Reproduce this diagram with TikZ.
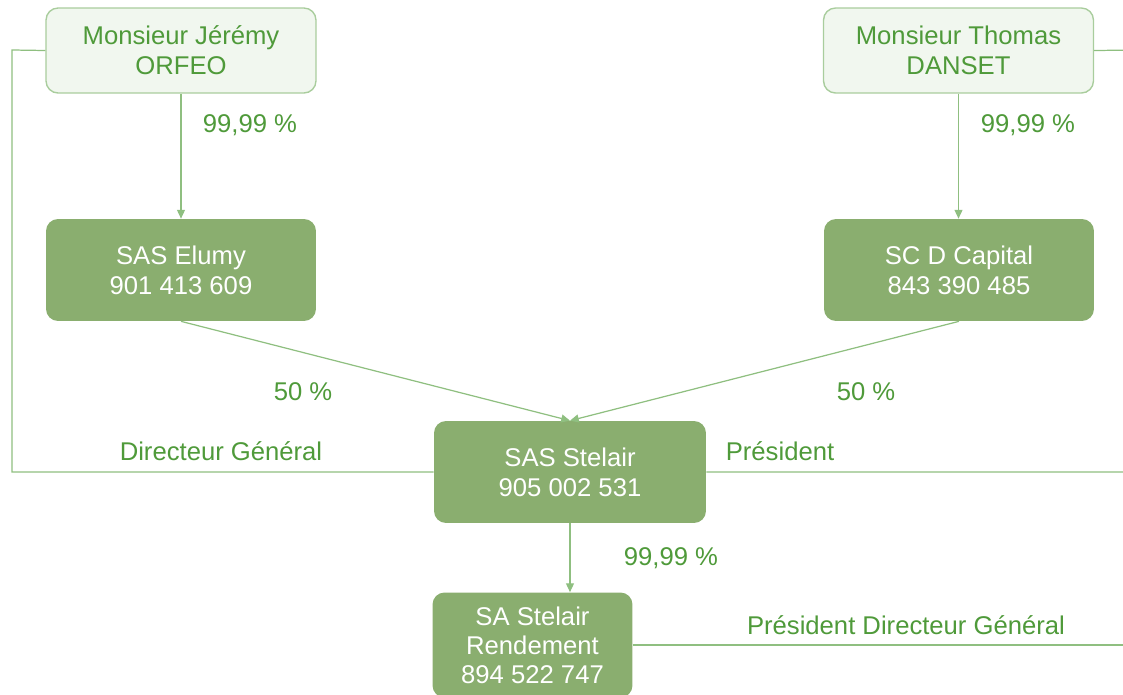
\documentclass[tikz,border=0pt]{standalone}
\usepackage{fontspec}
\setmainfont{Liberation Sans}
\usetikzlibrary{arrows.meta}
\usepackage{xcolor}
\definecolor{vertboite}{HTML}{8AAE6F}
\definecolor{vertpale}{HTML}{F1F7EF}
\definecolor{vertbord}{HTML}{A9CD9D}
\definecolor{vertligne}{HTML}{8FBF80}
\definecolor{verttexte}{HTML}{4F9A3A}

\begin{document}
\begin{tikzpicture}[x=0.02cm,y=-0.02cm,>={Triangle[length=5pt,width=4.5pt]},
	personne/.style={draw=vertbord,line width=0.8pt,fill=vertpale,rounded corners=0.24cm,
		text=verttexte,align=center,minimum width=5.4cm,minimum height=1.7cm,
		font=\fontsize{14.6}{17}\selectfont},
	societe/.style={fill=vertboite,rounded corners=0.24cm,text=white,align=center,
		minimum width=5.4cm,minimum height=2.04cm,font=\fontsize{14.6}{17}\selectfont},
	lien/.style={draw=vertligne,line width=0.7pt},
	etiquette/.style={text=verttexte,font=\fontsize{14.6}{17}\selectfont}]
	\clip (0,0) rectangle (1123,694);

	% personnes physiques
	\node[personne] (orfeo) at (181,50.5) {Monsieur Jérémy\\ORFEO};
	\node[personne] (danset) at (958.5,50.5) {Monsieur Thomas\\DANSET};

	% societes
	\node[societe] (elumy) at (181,270) {SAS Elumy\\901 413 609};
	\node[societe] (dcapital) at (959,270) {SC D Capital\\843 390 485};
	\node[societe,minimum width=5.44cm] (stelair) at (570,472) {SAS Stelair\\905 002 531};
	\node[societe,minimum width=4cm,minimum height=2.1cm,font=\fontsize{14.6}{16.5}\selectfont]
		(rendement) at (532.5,645) {SA Stelair\\Rendement\\894 522 747};

	\coordinate (gauche) at (12,50);
	\coordinate (droite) at (1140,50);
	\coordinate (droitebas) at (1140,645);

	% participations
	\foreach \a/\b/\t/\x/\y in {orfeo/elumy/{99,99 \%}/250/125,
			danset/dcapital/{99,99 \%}/1028/125,
			stelair/rendement/{99,99 \%}/671/558}
		{
		\draw[lien,->] (\a.south) -- (\a.south |- \b.north) ;
		\node[etiquette] (p-\a) at (\x,\y) {\t};
	};
	\draw[lien,->] (elumy.south) -- (stelair.north);
	\draw[lien,->] (dcapital.south) -- (stelair.north);
	\node[etiquette] (p-elumy) at (303,392) {50 \%};
	\node[etiquette] (p-dcapital) at (866,392) {50 \%};

	% mandats
	\draw[lien] (orfeo.west) -- (gauche) |- (stelair.west);
	\draw[lien] (danset.east) -- (droite) |- (stelair.east);
	\draw[lien] (rendement.east) -- (droitebas);
	\node[etiquette] (dg) at (221,451) {Directeur Général};
	\node[etiquette] (pres) at (780,451) {Président};
	\node[etiquette] (pdg) at (906,625) {Président Directeur Général};
\end{tikzpicture}
\end{document}
